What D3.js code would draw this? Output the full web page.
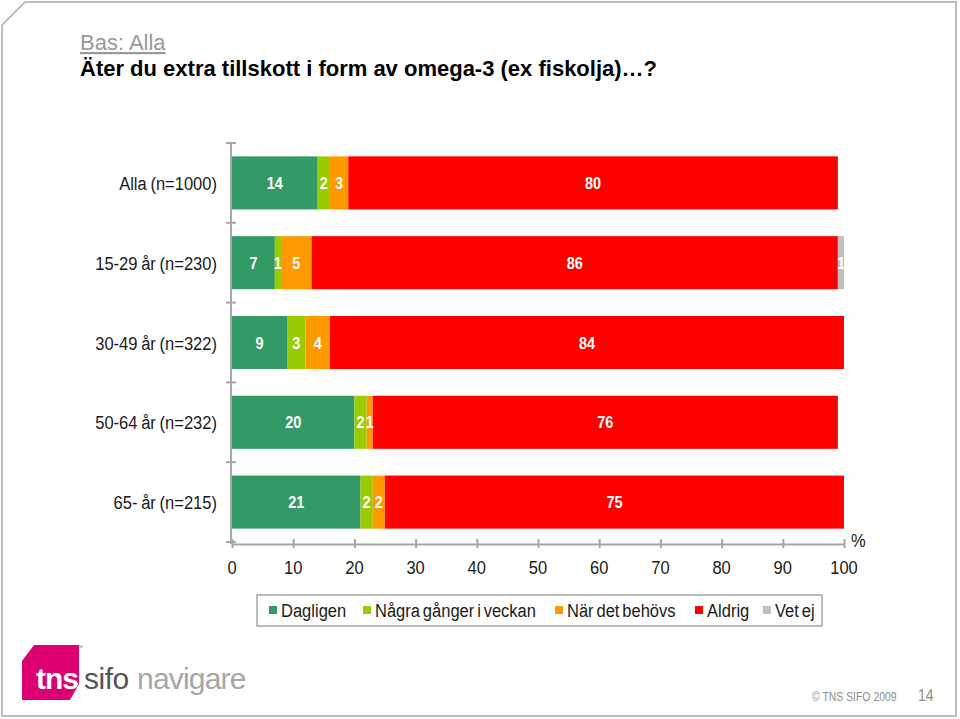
<!DOCTYPE html>
<html><head><meta charset="utf-8">
<script src="https://cdn.jsdelivr.net/npm/d3@7"></script>
<style>
body{margin:0;background:#fff;}
svg{display:block;font-family:Arial,"Liberation Sans",sans-serif;}
</style></head>
<body>
<svg id="chart" width="960" height="719"></svg>
<script>
const categories = ["Alla (n=1000)", "15-29 år (n=230)", "30-49 år (n=322)", "50-64 år (n=232)", "65- år (n=215)"];
const seriesNames = ["Dagligen", "Några gånger i veckan", "När det behövs", "Aldrig", "Vet ej"];
const dagligen = [14, 7, 9, 20, 21];
const nagraGanger = [2, 1, 3, 2, 2];
const narDetBehovs = [3, 5, 4, 1, 2];
const aldrig = [80, 86, 84, 76, 75];
const vetEj = [0, 1, 0, 0, 0];
const xTicks = [0, 10, 20, 30, 40, 50, 60, 70, 80, 90, 100];
const colors = ["#339966", "#99CC00", "#FF9900", "#FF0000", "#BFBFBF"];

const seriesValues = [dagligen, nagraGanger, narDetBehovs, aldrig, vetEj];
const rows = categories.map((c, i) => {
  const r = {cat: c};
  seriesNames.forEach((s, j) => r[s] = seriesValues[j][i]);
  return r;
});
const stacked = d3.stack().keys(seriesNames)(rows);

const svg = d3.select("#chart");
const FS = 19, SX = 0.87;

// condensed text helper
function ctext(parent, x, y, str, opts) {
  opts = opts || {};
  return parent.append("text")
    .attr("transform", `translate(${x},${y}) scale(${opts.sx || SX},1)`)
    .attr("text-anchor", opts.anchor || "start")
    .attr("font-size", opts.size || FS)
    .attr("font-weight", opts.weight || "normal")
    .attr("fill", opts.fill || "#1a1a1a")
    .text(str);
}

// frame
svg.append("path")
  .attr("d", "M2,25 L25,2 L956,2 L956,716 L2,716 Z")
  .attr("fill", "none").attr("stroke", "#BDBDBD").attr("stroke-width", 2);

// titles
svg.append("text").attr("x", 80).attr("y", 50)
  .attr("font-size", 22).attr("fill", "#999999")
  .attr("text-decoration", "underline").text("Bas: Alla");
svg.append("text").attr("x", 80).attr("y", 76)
  .attr("font-size", 22).attr("font-weight", "bold").attr("fill", "#000")
  .text("Äter du extra tillskott i form av omega-3 (ex fiskolja)…?");

const x = d3.scaleLinear().domain([0, 100]).range([232, 844]);
const y = d3.scaleBand().domain(categories).range([143, 542])
  .paddingInner(0.335).paddingOuter(0.1675);

// bars
const g = svg.append("g");
stacked.forEach((layer, j) => {
  g.selectAll(null).data(layer).enter().append("rect")
    .attr("x", d => x(d[0]))
    .attr("y", d => y(d.data.cat))
    .attr("width", d => x(d[1]) - x(d[0]))
    .attr("height", y.bandwidth())
    .attr("fill", colors[j]);
});
stacked.forEach((layer, j) => {
  layer.filter(d => d[1] - d[0] > 0).forEach(d => {
    ctext(g, x((d[0] + d[1]) / 2), y(d.data.cat) + y.bandwidth() / 2 + 6,
      Math.round(d[1] - d[0]), {anchor: "middle", size: 16.5, weight: "bold", fill: "#fff", sx: 0.88});
  });
});

// y axis
const axisColor = "#A6A6A6";
svg.append("line").attr("x1", 231).attr("x2", 231).attr("y1", 143).attr("y2", 544)
  .attr("stroke", axisColor).attr("stroke-width", 2);
const step = y.step();
const bounds = categories.map(c => y(c) - step * y.paddingInner() / 2).concat([542]);
svg.selectAll(null).data(bounds).enter().append("line")
  .attr("x1", 226).attr("x2", 236)
  .attr("y1", d => d).attr("y2", d => d)
  .attr("stroke", axisColor).attr("stroke-width", 2);
categories.forEach(c => {
  ctext(svg, 217, y(c) + y.bandwidth() / 2 + 7, c, {anchor: "end"}).attr("word-spacing", "-1px");
});

// x axis
const xa = svg.append("g").attr("transform", "translate(0,544)")
  .call(d3.axisBottom(x).tickValues(xTicks).tickSize(4).tickSizeOuter(0).tickFormat(""));
xa.select(".domain").attr("stroke", axisColor).attr("stroke-width", 2);
xa.selectAll(".tick line").attr("stroke", axisColor).attr("stroke-width", 2)
  .attr("y1", -5).attr("y2", 4);
xTicks.forEach(t => ctext(svg, x(t), 574, t, {anchor: "middle"}));
ctext(svg, 851, 547, "%");

// legend
svg.append("rect").attr("x", 257).attr("y", 595).attr("width", 565).attr("height", 31)
  .attr("fill", "#fff").attr("stroke", "#A6A6A6").attr("stroke-width", 1.5);
const legX = [269, 363, 555, 695, 763];
seriesNames.forEach((s, j) => {
  svg.append("rect").attr("x", legX[j]).attr("y", 606).attr("width", 8).attr("height", 8).attr("fill", colors[j]);
  ctext(svg, legX[j] + 12, 617, s).attr("word-spacing", "-2px");
});

// logo
svg.append("path")
  .attr("d", "M34,645 L79,645 L79,684 L70,700 L22,700 L22,661 Z")
  .attr("fill", "#DC0073");
svg.append("text").attr("x", 36).attr("y", 689).attr("font-size", 30).attr("font-weight", "bold")
  .attr("fill", "#fff").attr("letter-spacing", "-1").text("tns");
svg.append("text").attr("x", 84).attr("y", 689).attr("font-size", 30)
  .attr("fill", "#555").attr("letter-spacing", "-0.5").text("sifo");
svg.append("text").attr("x", 137).attr("y", 689).attr("font-size", 30)
  .attr("fill", "#A6A6A6").attr("letter-spacing", "-0.8").text("navigare");
svg.append("text").attr("x", 78).attr("y", 649).attr("font-size", 5).attr("fill", "#555").text("™");

// footer
ctext(svg, 812, 701, "© TNS SIFO 2009", {size: 12, fill: "#8c8c8c"});
ctext(svg, 918, 701, "14", {size: 16, fill: "#8c8c8c"});
</script>
</body></html>
